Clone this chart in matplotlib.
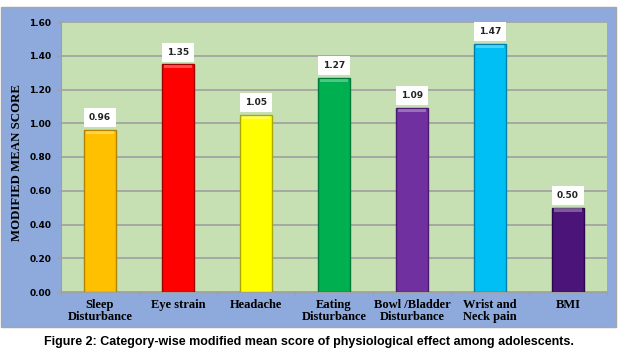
import matplotlib.pyplot as plt
import numpy as np
from matplotlib.patches import Rectangle

categories = ["Sleep\nDisturbance", "Eye strain", "Headache", "Eating\nDisturbance",
              "Bowl /Bladder\nDisturbance", "Wrist and\nNeck pain", "BMI"]
scores = [0.96, 1.35, 1.05, 1.27, 1.09, 1.47, 0.50]
colors = ["#FFC000", "#FF0000", "#FFFF00", "#00B050", "#7030A0", "#00BFF5", "#4A1478"]
edges = ["#B08400", "#A00000", "#A8A800", "#007A38", "#4A1A70", "#0080A8", "#2A0850"]
yticks = [0.0, 0.2, 0.4, 0.6, 0.8, 1.0, 1.2, 1.4, 1.6]

W, H = 618, 354
fig = plt.figure(figsize=(W / 100, H / 100), dpi=100, facecolor="white")

# blue chart frame
fig.patches.append(Rectangle((1 / W, 1 - 327 / H), 615 / W, 320 / H, transform=fig.transFigure,
                             facecolor="#8EA9DB", edgecolor="#A6A6A6", linewidth=1, zorder=-5))

ax = fig.add_axes([61 / W, 1 - 292 / H, 546 / W, 270 / H])
ax.set_zorder(2)
ax.set_facecolor("#C6E0B4")
x = np.arange(len(categories))
ax.bar(x, scores, width=0.41, color=colors, edgecolor=edges, linewidth=1, zorder=3)
# light bevel along the top of each bar
ax.bar(x, [0.02] * len(x), bottom=np.array(scores) - 0.025, width=0.37,
       color="white", alpha=0.3, edgecolor="none", zorder=5)

for xi, v in zip(x, scores):
    ax.annotate(f"{v:.2f}", (xi, v), xytext=(0, 5.5), textcoords="offset points",
                ha="center", va="bottom", fontsize=6.5, fontweight="bold",
                family="DejaVu Sans", color="#222222", zorder=6,
                bbox=dict(facecolor="white", edgecolor="none", boxstyle="square,pad=0.55"))

ax.set_xlim(-0.5, len(categories) - 0.5)
ax.set_ylim(0, 1.6)
ax.set_yticks(yticks, [f"{t:.2f}" for t in yticks], fontsize=6.5, fontweight="bold",
              family="DejaVu Sans")
ax.yaxis.grid(True, color="#A0A0A0", linewidth=1.2, zorder=0)
ax.set_axisbelow(True)
ax.set_xticks(x, categories, fontsize=9, fontweight="bold", family="Liberation Serif",
              linespacing=1.0)
ax.set_xticks(np.arange(len(categories) + 1) - 0.5, minor=True)
ax.tick_params(axis="x", which="major", length=0, pad=5)
ax.tick_params(axis="x", which="minor", length=3, color="#A0A0A0")
ax.tick_params(axis="y", length=3, color="#A0A0A0", pad=4)
for side in ["top", "right"]:
    ax.spines[side].set_visible(False)
for side in ["left", "bottom"]:
    ax.spines[side].set_color("#A0A0A0")
ax.set_ylabel("MODIFIED MEAN SCORE", fontsize=9.3, fontweight="bold", family="Liberation Serif")
ax.yaxis.set_label_coords(-0.069, 0.478)

fig.text(309 / W, 1 - 342 / H,
         "Figure 2: Category-wise modified mean score of physiological effect among adolescents.",
         ha="center", va="center", fontsize=9, fontweight="bold", family="Liberation Sans")

fig.savefig("out.png", dpi=100, facecolor="white")
